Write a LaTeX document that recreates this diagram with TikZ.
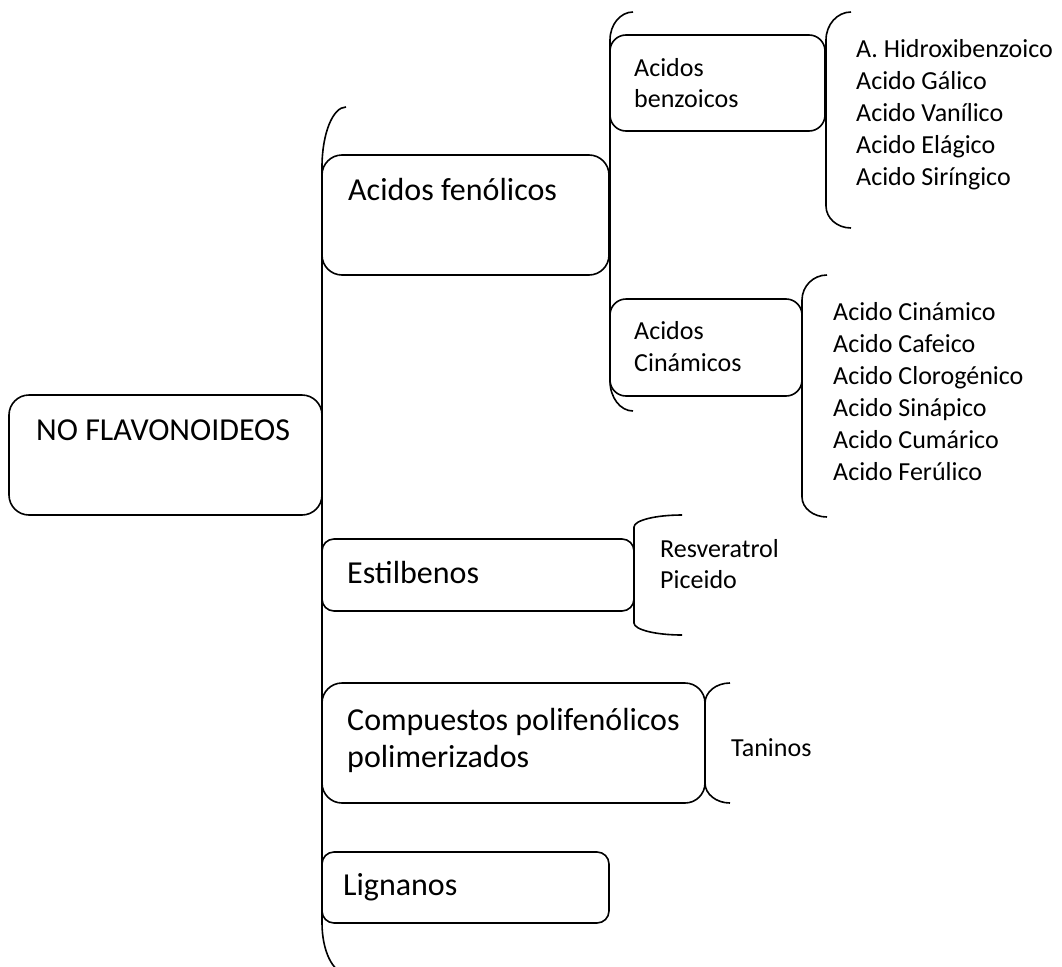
\documentclass[tikz,border=0pt]{standalone}
\usepackage{fontspec}
\setmainfont{Carlito}
\newcommand{\leftbrk}[6]{% x, top, bottom, hook width, top radius, bottom radius
  \draw[ln] (#1+#4,#2) .. controls (#1+0.448*#4,#2) and (#1,#2+0.448*#5) .. (#1,#2+#5)
    -- (#1,#3-#6) .. controls (#1,#3-0.448*#6) and (#1+0.448*#4,#3) .. (#1+#4,#3);}
\begin{document}
\begin{tikzpicture}[x=1pt,y=-1pt,
  ln/.style={line width=1.6pt, black},
  box/.style={draw, line width=1.6pt, inner sep=0pt, outer sep=0pt},
  big/.style={font=\fontsize{32}{38}\selectfont, inner sep=0pt, anchor=base west},
  small/.style={font=\fontsize{26}{32}\selectfont, inner sep=0pt, anchor=base west}]
\fill[white] (0,0) rectangle (1062,966);
\useasboundingbox (0,0) rectangle (1062,966);
\clip (0,0) rectangle (1062,966);

% boxes
\node[box, rounded corners=20pt, minimum width=313pt, minimum height=120pt] (main) at (165.5,455) {};
\node[box, rounded corners=20pt, minimum width=287pt, minimum height=120pt] (fen) at (465.5,215) {};
\node[box, rounded corners=16pt, minimum width=215pt, minimum height=96pt] (benz) at (717.5,83) {};
\node[box, rounded corners=16pt, minimum width=192pt, minimum height=97pt] (cin) at (706,347.5) {};
\node[box, rounded corners=12pt, minimum width=312pt, minimum height=72pt] (est) at (478,575) {};
\node[box, rounded corners=20pt, minimum width=383pt, minimum height=120pt] (comp) at (513.5,743) {};
\node[box, rounded corners=12pt, minimum width=287pt, minimum height=71pt] (lig) at (465.5,887.5) {};

% brackets
\leftbrk{322}{107}{973}{24}{60}{50}
\leftbrk{610}{12}{411}{23}{28}{30}
\leftbrk{826}{12}{228}{25}{28}{22}
\leftbrk{802}{275}{517}{25}{25}{20}
\leftbrk{634}{515}{635}{48}{12}{12}
\leftbrk{705}{683}{803}{25}{20}{20}

% labels
\node[big] (tmain) at (36,440) {NO FLAVONOIDEOS};
\node[big] (tfen) at (348,200) {Acidos fenólicos};
\node[small] (tbenz1) at (634,76) {Acidos};
\node[small] (tbenz2) at (634,107) {benzoicos};
\node[small] (tcin1) at (634,339) {Acidos};
\node[small] (tcin2) at (634,371) {Cinámicos};
\node[big] (test) at (347,583) {Estilbenos};
\node[big] (tcomp1) at (347,730) {Compuestos polifenólicos};
\node[big] (tcomp2) at (347,767) {polimerizados};
\node[big] (tlig) at (343,895) {Lignanos};

% lists
\foreach \t [count=\i] in {A. Hidroxibenzoico, Acido Gálico, Acido Vanílico, Acido Elágico, Acido Siríngico}
  \node[small] (bz\i) at (856,{57+32*(\i-1)}) {\t};
\foreach \t [count=\i] in {Acido Cinámico, Acido Cafeico, Acido Clorogénico, Acido Sinápico, Acido Cumárico, Acido Ferúlico}
  \node[small] (cn\i) at (833,{320+32*(\i-1)}) {\t};
\node[small] (res) at (660,557) {Resveratrol};
\node[small] (pic) at (660,588) {Piceido};
\node[small] (tan) at (731,756) {Taninos};
\end{tikzpicture}
\end{document}
